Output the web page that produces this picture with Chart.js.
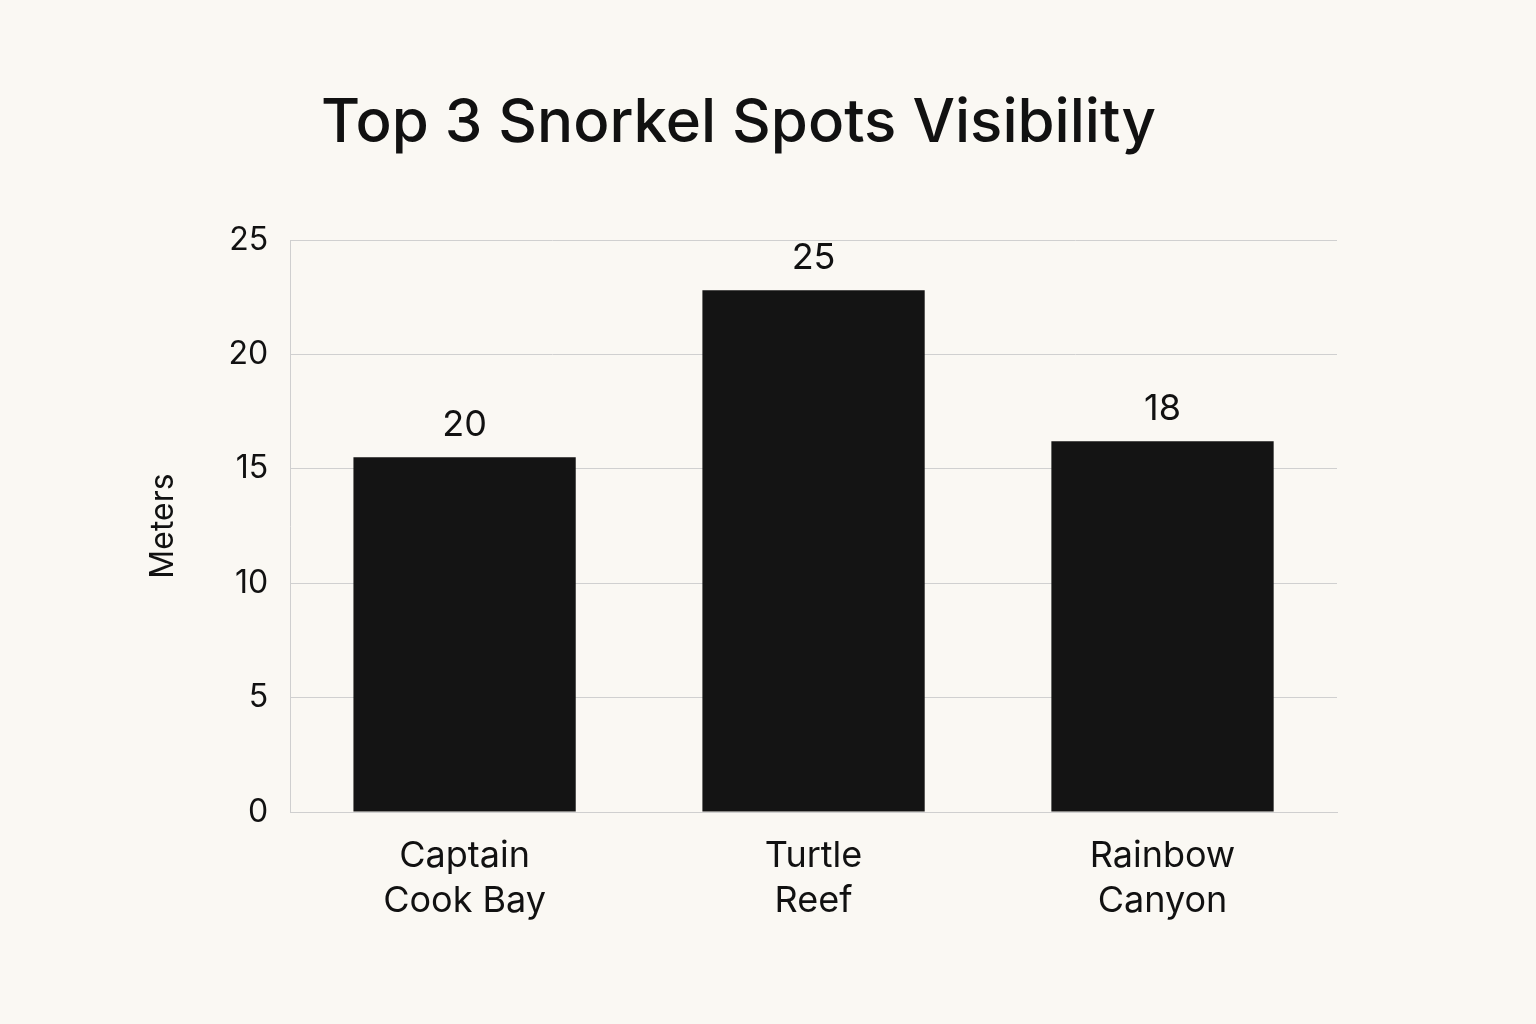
<!DOCTYPE html>
<html><head><meta charset="utf-8">
<script src="https://cdn.jsdelivr.net/npm/chart.js@4/dist/chart.umd.min.js"></script>
<style>html,body{margin:0;background:#faf8f3;}#w{width:1536px;height:1024px;}</style>
</head><body><div id="w"><canvas id="c"></canvas></div>
<script>
const categories = [["Captain","Cook Bay"],["Turtle","Reef"],["Rainbow","Canyon"]];
const barValues = [15.5, 22.8, 16.2];
const valueLabels = ["20","25","18"];
const yTicks = [0,5,10,15,20,25];
const F = "Inter, 'Noto Sans', sans-serif";
const labelPlugin = {
  id:'lbl',
  afterDatasetsDraw(chart){
    const ctx=chart.ctx; const meta=chart.getDatasetMeta(0);
    ctx.save(); ctx.fillStyle='#111'; ctx.font='36px '+F; ctx.textAlign='center'; ctx.textBaseline='bottom';
    meta.data.forEach((b,i)=>ctx.fillText(valueLabels[i], b.x, b.y-14));
    ctx.restore();
  }
};
new Chart(document.getElementById('c'),{
  type:'bar',
  data:{labels:categories,datasets:[{data:barValues,backgroundColor:'#141414',barPercentage:0.637,categoryPercentage:1}]},
  options:{
    responsive:true,maintainAspectRatio:false,animation:false,
    layout:{padding:{left:140,right:199,top:20,bottom:86}},
    plugins:{legend:{display:false},tooltip:{enabled:false},
      title:{display:true,text:'Top 3 Snorkel Spots Visibility',color:'#111',font:{family:F,size:60,weight:'500'},padding:{top:68,bottom:80}}},
    scales:{
      x:{grid:{display:false},border:{color:'#cfcfcf'},ticks:{color:'#111',font:{family:F,size:36,lineHeight:1.25},padding:14},
        afterSetDimensions(s){ if(s.right-s.left>900){ s.left+=41; s.right-=82; s.width=s.right-s.left; } }},
      y:{min:0,max:25,afterBuildTicks(a){a.ticks=yTicks.map(v=>({value:v}));},
        grid:{color:'#d0d0d0',drawTicks:false},border:{color:'#cfcfcf'},
        ticks:{color:'#111',font:{family:F,size:32},padding:22},
        title:{display:true,text:'Meters',color:'#111',font:{family:F,size:32},padding:{bottom:24}}}
    }
  },
  plugins:[labelPlugin]
});
</script></body></html>
